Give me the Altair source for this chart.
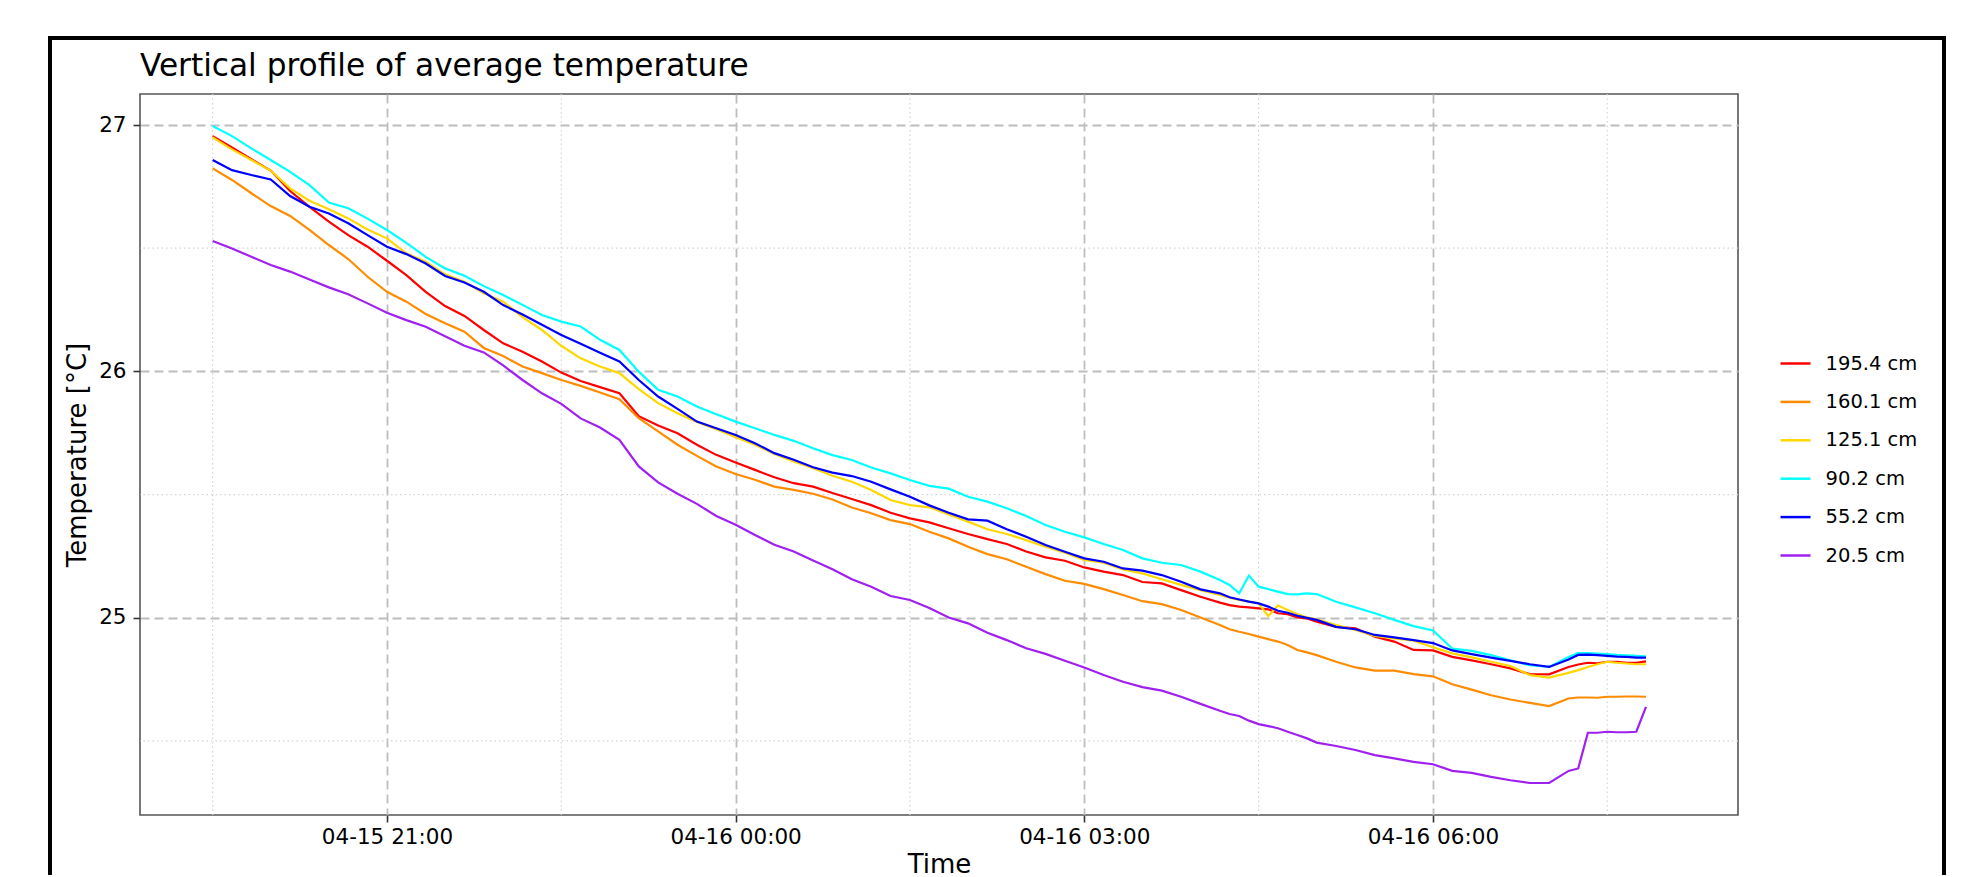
import altair as alt
import pandas as pd

YEAR = 2024

# ---- time stamps (month-day hour:minute) ----
times = [
    "04-15 19:30", "04-15 19:40", "04-15 19:50", "04-15 20:00", "04-15 20:10", "04-15 20:20",
    "04-15 20:30", "04-15 20:40", "04-15 20:50",
    "04-15 21:00", "04-15 21:10", "04-15 21:20", "04-15 21:30", "04-15 21:40", "04-15 21:50",
    "04-15 22:00", "04-15 22:10", "04-15 22:20", "04-15 22:30", "04-15 22:40", "04-15 22:50",
    "04-15 23:00", "04-15 23:10", "04-15 23:20", "04-15 23:30", "04-15 23:40", "04-15 23:50",
    "04-16 00:00", "04-16 00:10", "04-16 00:20", "04-16 00:30", "04-16 00:40", "04-16 00:50",
    "04-16 01:00", "04-16 01:10", "04-16 01:20", "04-16 01:30", "04-16 01:40", "04-16 01:50",
    "04-16 02:00", "04-16 02:10", "04-16 02:20", "04-16 02:30", "04-16 02:40", "04-16 02:50",
    "04-16 03:00", "04-16 03:10", "04-16 03:20", "04-16 03:30", "04-16 03:40", "04-16 03:50",
    "04-16 04:00", "04-16 04:10",
    "04-16 04:15", "04-16 04:20", "04-16 04:25", "04-16 04:30", "04-16 04:35", "04-16 04:40",
    "04-16 04:45", "04-16 04:50", "04-16 04:55", "04-16 05:00",
    "04-16 05:10", "04-16 05:20", "04-16 05:30", "04-16 05:40", "04-16 05:50", "04-16 06:00",
    "04-16 06:10", "04-16 06:20", "04-16 06:30", "04-16 06:40", "04-16 06:50", "04-16 07:00",
    "04-16 07:10",
    "04-16 07:15", "04-16 07:20", "04-16 07:25", "04-16 07:30", "04-16 07:35", "04-16 07:40",
    "04-16 07:45", "04-16 07:50",
]

depths = ["195.4 cm", "160.1 cm", "125.1 cm", "90.2 cm", "55.2 cm", "20.5 cm"]
colors = ["#ff0000", "#ff8c00", "#ffd700", "#00ffff", "#0000ff", "#a020f0"]

t195 = [26.955, 26.909, 26.861, 26.815, 26.732, 26.668, 26.608, 26.553, 26.506,
        26.449, 26.391, 26.323, 26.265, 26.225, 26.168,
        26.114, 26.080, 26.040, 25.995, 25.961, 25.936,
        25.911, 25.818, 25.780, 25.749, 25.702, 25.661,
        25.630, 25.600, 25.570, 25.546, 25.532, 25.506,
        25.482, 25.457, 25.426, 25.403, 25.387, 25.363,
        25.340, 25.319, 25.299, 25.269, 25.245, 25.231,
        25.204, 25.187, 25.173, 25.145, 25.139, 25.112,
        25.085, 25.061,
        25.051, 25.045, 25.042, 25.038, 25.034, 25.018, 25.014, 25.001, 24.997, 24.984,
        24.963, 24.957, 24.923, 24.903, 24.869, 24.867, 24.841, 24.827, 24.811, 24.794,
        24.771, 24.770, 24.800,
        24.810, 24.817, 24.815, 24.821, 24.821, 24.817, 24.817, 24.823]

t160 = [26.824, 26.777, 26.723, 26.671, 26.631, 26.574, 26.513, 26.456, 26.384,
        26.323, 26.283, 26.233, 26.195, 26.161, 26.095,
        26.062, 26.020, 25.993, 25.965, 25.941, 25.914,
        25.887, 25.810, 25.756, 25.702, 25.657, 25.614,
        25.583, 25.560, 25.532, 25.519, 25.503, 25.480,
        25.447, 25.424, 25.396, 25.380, 25.349, 25.322,
        25.288, 25.258, 25.237, 25.207, 25.177, 25.150,
        25.137, 25.116, 25.092, 25.067, 25.055, 25.031,
        25.001, 24.970,
        24.953, 24.943, 24.934, 24.923, 24.913, 24.903, 24.889, 24.869, 24.859, 24.848,
        24.821, 24.798, 24.785, 24.785, 24.771, 24.762, 24.730, 24.708, 24.685, 24.668,
        24.654, 24.641, 24.672,
        24.676, 24.676, 24.675, 24.679, 24.679, 24.680, 24.680, 24.679]

t125 = [26.950, 26.901, 26.858, 26.815, 26.743, 26.693, 26.658, 26.621, 26.576,
        26.540, 26.479, 26.445, 26.394, 26.364, 26.317,
        26.283, 26.220, 26.168, 26.104, 26.053, 26.020,
        25.993, 25.928, 25.871, 25.830, 25.795, 25.765,
        25.733, 25.702, 25.665, 25.634, 25.607, 25.576,
        25.552, 25.518, 25.478, 25.457, 25.448, 25.419,
        25.390, 25.359, 25.340, 25.315, 25.288, 25.264,
        25.234, 25.223, 25.196, 25.180, 25.156, 25.133,
        25.112, 25.092,
        25.081, 25.072, 25.065, 25.058, 25.007, 25.049, 25.031, 25.015, 25.001, 24.993,
        24.970, 24.950, 24.926, 24.916, 24.907, 24.880, 24.855, 24.839, 24.821, 24.804,
        24.767, 24.757, 24.776,
        24.787, 24.800, 24.811, 24.821, 24.817, 24.814, 24.811, 24.811]

t90 = [26.996, 26.955, 26.905, 26.858, 26.810, 26.756, 26.685, 26.662, 26.620,
       26.574, 26.522, 26.465, 26.418, 26.388, 26.346,
       26.310, 26.270, 26.229, 26.202, 26.182, 26.128,
       26.087, 25.999, 25.925, 25.898, 25.857, 25.826,
       25.796, 25.769, 25.742, 25.718, 25.688, 25.660,
       25.640, 25.610, 25.586, 25.559, 25.535, 25.524,
       25.491, 25.471, 25.444, 25.413, 25.376, 25.349,
       25.326, 25.299, 25.275, 25.241, 25.223, 25.214,
       25.187, 25.153,
       25.133, 25.099, 25.171, 25.126, 25.116, 25.106, 25.096, 25.095, 25.099, 25.096,
       25.065, 25.042, 25.018, 24.991, 24.966, 24.948, 24.875, 24.865, 24.848, 24.827,
       24.807, 24.800, 24.840,
       24.856, 24.856, 24.854, 24.852, 24.849, 24.847, 24.845, 24.843]

t55 = [26.858, 26.817, 26.797, 26.779, 26.712, 26.668, 26.641, 26.601, 26.553,
       26.506, 26.476, 26.438, 26.387, 26.361, 26.323,
       26.269, 26.231, 26.189, 26.148, 26.112, 26.076,
       26.040, 25.965, 25.898, 25.848, 25.796, 25.769,
       25.742, 25.708, 25.668, 25.641, 25.611, 25.589,
       25.575, 25.552, 25.521, 25.491, 25.456, 25.426,
       25.399, 25.394, 25.359, 25.329, 25.295, 25.268,
       25.241, 25.227, 25.200, 25.191, 25.173, 25.146,
       25.115, 25.099,
       25.083, 25.074, 25.065, 25.058, 25.045, 25.028, 25.020, 25.008, 24.999, 24.991,
       24.963, 24.953, 24.930, 24.920, 24.909, 24.897, 24.867, 24.852, 24.838, 24.825,
       24.811, 24.800, 24.830,
       24.849, 24.850, 24.848, 24.845, 24.842, 24.841, 24.838, 24.838]

t20 = [26.529, 26.499, 26.465, 26.432, 26.405, 26.373, 26.341, 26.313, 26.276,
       26.238, 26.208, 26.181, 26.143, 26.104, 26.077,
       26.024, 25.965, 25.911, 25.868, 25.809, 25.772,
       25.722, 25.614, 25.549, 25.503, 25.462, 25.413,
       25.377, 25.336, 25.296, 25.269, 25.232, 25.197,
       25.156, 25.126, 25.088, 25.072, 25.039, 25.001,
       24.977, 24.939, 24.909, 24.876, 24.853, 24.825,
       24.798, 24.767, 24.740, 24.718, 24.704, 24.679,
       24.650, 24.622,
       24.609, 24.601, 24.582, 24.568, 24.560, 24.551, 24.537, 24.524, 24.510, 24.493,
       24.479, 24.463, 24.442, 24.429, 24.415, 24.405, 24.378, 24.370, 24.354, 24.340,
       24.329, 24.329, 24.378,
       24.388, 24.533, 24.533, 24.537, 24.535, 24.535, 24.537, 24.638]

series = [t195, t160, t125, t90, t55, t20]

# axis ticks / gridlines
major_x = ["04-15 21:00", "04-16 00:00", "04-16 03:00", "04-16 06:00"]
minor_x = ["04-15 19:30", "04-15 22:30", "04-16 01:30", "04-16 04:30", "04-16 07:30"]
major_y = [25, 26, 27]
minor_y = [24.5, 25.5, 26.5]
x_limits = ["04-15 18:52:30", "04-16 08:37:30"]
y_limits = [24.199, 27.126]

FONT = "DejaVu Sans"


def ts(s):
    return pd.Timestamp(f"{YEAR}-{s}")


def dt(s):
    t = ts(s)
    return alt.DateTime(year=t.year, month=t.month, date=t.day,
                        hours=t.hour, minutes=t.minute, seconds=t.second)


rows = []
for label, vals in zip(depths, series):
    for t, v in zip(times, vals):
        rows.append({"time": ts(t), "temp": v, "depth": label})
df = pd.DataFrame(rows)

x_scale = alt.Scale(domain=[dt(s) for s in x_limits])
y_scale = alt.Scale(domain=y_limits, zero=False, nice=False)

x_axis = alt.Axis(values=[dt(s) for s in major_x], format="%m-%d %H:%M", title="Time",
                  labelPadding=4, titleY=57.5, titleBaseline="alphabetic",
                  labelFlush=False, labelOverlap=False)
y_axis = alt.Axis(values=major_y, title="Temperature [°C]", labelPadding=7,
                  titleX=-55, titleY=360.5, titleAngle=270, titleAlign="center",
                  titleBaseline="alphabetic")

X = alt.X("time:T", scale=x_scale, axis=x_axis)
Y = alt.Y("temp:Q", scale=y_scale, axis=y_axis)

minor_v = alt.Chart(pd.DataFrame({"time": [ts(s) for s in minor_x]})).mark_rule(
    color="#d4d4d4", strokeWidth=1.2, strokeDash=[1.5, 3]).encode(x=X)
minor_h = alt.Chart(pd.DataFrame({"temp": minor_y})).mark_rule(
    color="#d4d4d4", strokeWidth=1.2, strokeDash=[1.5, 3]).encode(y=Y)

lines = alt.Chart(df).mark_line(strokeWidth=2.2).encode(
    x=X, y=Y,
    color=alt.Color("depth:N", sort=depths,
                    scale=alt.Scale(domain=depths, range=colors),
                    legend=alt.Legend(title=None, orient="none", legendX=1639, legendY=253,
                                      symbolType="stroke", symbolSize=900,
                                      symbolStrokeWidth=2.5, labelFontSize=19.5,
                                      labelFont=FONT, labelColor="black",
                                      rowPadding=12.4, labelOffset=13.6, padding=0)),
)

dummy = pd.DataFrame({"k": [0]})
frame = alt.Chart(dummy).mark_rect(filled=False, stroke="black", strokeWidth=4).encode(
    x=alt.value(-90), x2=alt.value(1804), y=alt.value(-56), y2=alt.value(900))

title_text = alt.Chart(dummy).mark_text(
    text="Vertical profile of average temperature", align="left", baseline="alphabetic",
    fontSize=31.2, font=FONT, color="black").encode(x=alt.value(0), y=alt.value(-18.5))

chart = alt.layer(minor_v, minor_h, lines, frame, title_text).properties(
    width=1598, height=721,
    autosize=alt.AutoSizeParams(type="none"),
    padding={"left": 132, "top": 86, "right": 230, "bottom": 60},
).configure_view(stroke="#555555", strokeWidth=1.6).configure_axis(
    labelFont=FONT, labelFontSize=21.5, labelColor="black",
    titleFont=FONT, titleFontSize=26, titleFontWeight="normal", titleColor="black",
    domain=False, tickColor="#333333", tickWidth=1.6, tickSize=7,
    gridColor="#bdbdbd", gridDash=[9, 5], gridWidth=1.8,
)

chart.save("out.html", embed_options={"renderer": "svg", "actions": False})
